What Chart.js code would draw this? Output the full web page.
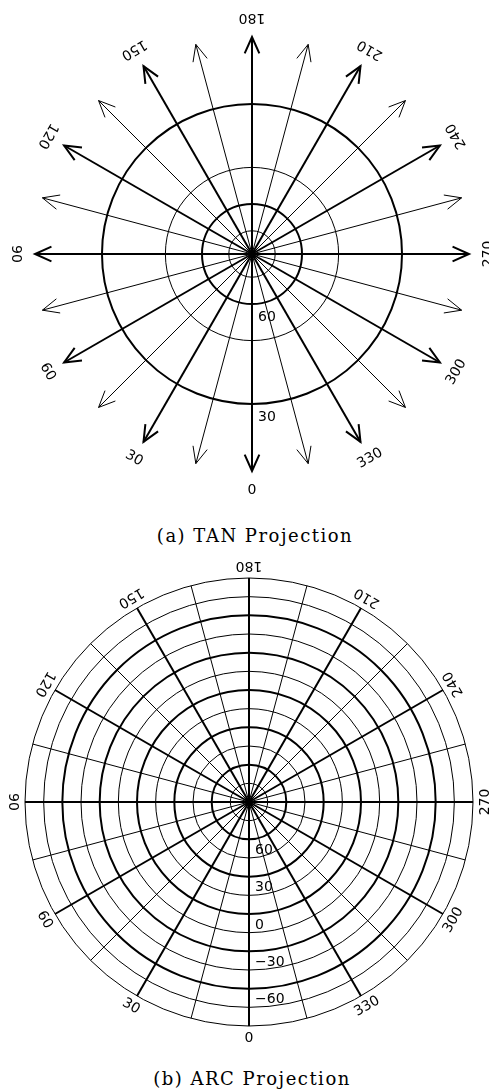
<!DOCTYPE html>
<html>
<head>
<meta charset="utf-8">
<script src="https://cdn.jsdelivr.net/npm/chart.js@4.4.1/dist/chart.umd.min.js"></script>
<style>
  body { margin: 0; background: #fff; width: 489px; height: 1092px; position: relative; overflow: hidden; }
  canvas { position: absolute; left: 0; }
  #tanChart { top: 0; }
  #arcChart { top: 550px; }
  .caption { position: absolute; transform: translateX(-50%); white-space: nowrap;
    font-family: "DejaVu Serif", serif; font-size: 18px; letter-spacing: 1.5px; line-height: 24px; color: #000; }
</style>
</head>
<body>
<canvas id="tanChart" width="489" height="510"></canvas>
<div class="caption" style="left:255px; top:524px;">(a) TAN Projection</div>
<canvas id="arcChart" width="489" height="502"></canvas>
<div class="caption" style="left:252px; top:1067px;">(b) ARC Projection</div>
<script>
// graticule, in degrees
const longitudes = [0, 15, 30, 45, 60, 75, 90, 105, 120, 135, 150, 165,
                    180, 195, 210, 225, 240, 255, 270, 285, 300, 315, 330, 345];
const lonLabels = [0, 30, 60, 90, 120, 150, 180, 210, 240, 270, 300, 330];

const tanLatitudes = [75, 60, 45, 30];
const tanLatLabels = [60, 30];

const arcLatitudes = [75, 60, 45, 30, 15, 0, -15, -30, -45, -60, -75, -90];
const arcLatLabels = [60, 30, 0, -30, -60];

const D2R = Math.PI / 180;
// native radius R(theta) for each projection
const tanR = lat => 1 / Math.tan(lat * D2R) / D2R;
const arcR = lat => 90 - lat;

function makeGraticule(id, cfg) {
  const labelsPlugin = {
    id: 'graticuleLabels',
    afterDraw(chart) {
      const s = chart.scales.r;
      const ctx = chart.ctx;
      ctx.save();
      ctx.strokeStyle = '#000';
      ctx.lineJoin = 'miter';

      // arrow heads on the meridians
      if (cfg.arrows) {
        longitudes.forEach((lon, i) => {
          const tip = s.getPointPosition(i, s.drawingArea);
          const a = s.getIndexAngle(i) - Math.PI / 2;
          const L = 18, da = 24 * D2R;
          ctx.lineWidth = lon % 30 === 0 ? 2 : 1;
          ctx.beginPath();
          ctx.moveTo(tip.x - L * Math.cos(a - da), tip.y - L * Math.sin(a - da));
          ctx.lineTo(tip.x, tip.y);
          ctx.lineTo(tip.x - L * Math.cos(a + da), tip.y - L * Math.sin(a + da));
          ctx.stroke();
        });
      }

      ctx.fillStyle = '#000';
      ctx.font = '14px "DejaVu Sans"';
      ctx.textAlign = 'center';
      ctx.textBaseline = 'middle';
      lonLabels.forEach(lon => {
        const i = longitudes.indexOf(lon);
        const p = s.getPointPosition(i, s.drawingArea + cfg.labelGap);
        ctx.save();
        ctx.translate(p.x, p.y);
        ctx.rotate(lon * D2R);
        ctx.fillText(String(lon), 0, 0);
        ctx.restore();
      });

      // latitude labels along meridian 0
      ctx.textAlign = 'left';
      cfg.latLabels.forEach(lat => {
        const p = s.getPointPosition(0, s.getDistanceFromCenterForValue(cfg.proj(lat)));
        const txt = lat < 0 ? '\u2212' + (-lat) : String(lat);
        ctx.fillText(txt, p.x + 6, p.y + cfg.latDy);
      });
      ctx.restore();
    }
  };

  return new Chart(document.getElementById(id), {
    type: 'radar',
    data: { labels: longitudes.map(String), datasets: [{ data: [] }] },
    options: {
      responsive: false,
      animation: false,
      layout: { padding: cfg.padding },
      plugins: { legend: { display: false }, tooltip: { enabled: false } },
      scales: {
        r: {
          min: 0,
          max: cfg.rMax,
          startAngle: 180,
          ticks: { display: false },
          pointLabels: { display: false },
          grid: {
            circular: true,
            color: '#000',
            lineWidth: c => (c.tick && cfg.latLabels.includes(c.tick.lat)) ? 2 : 1
          },
          angleLines: {
            color: '#000',
            lineWidth: c => longitudes[c.index] % 30 === 0 ? 2 : 1
          },
          afterBuildTicks: scale => {
            scale.ticks = [{ value: 0, lat: 90 }].concat(
              cfg.lats.map(l => ({ value: cfg.proj(l), lat: l })));
          }
        }
      }
    },
    plugins: [labelsPlugin]
  });
}

makeGraticule('tanChart', {
  lats: tanLatitudes, latLabels: tanLatLabels, proj: tanR,
  rMax: tanR(21.76), arrows: true, labelGap: 19, latDy: 13,
  padding: { left: 35, top: 37, right: 20, bottom: 39 }
});

makeGraticule('arcChart', {
  lats: arcLatitudes, latLabels: arcLatLabels, proj: arcR,
  rMax: arcR(-90), arrows: false, labelGap: 12, latDy: 11,
  padding: { left: 25, top: 28, right: 16, bottom: 26 }
});
</script>
</body>
</html>
